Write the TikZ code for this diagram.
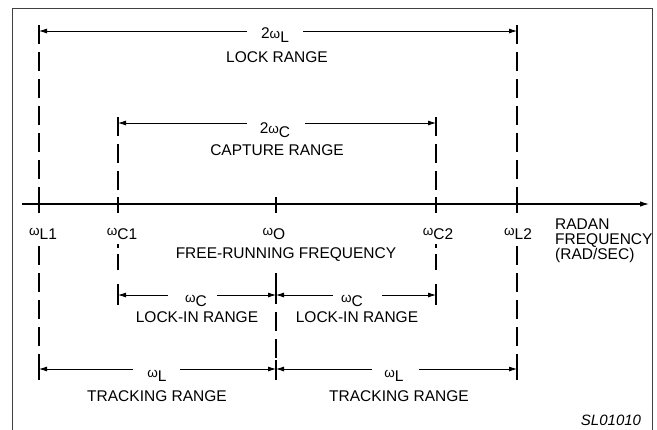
\documentclass[tikz,border=0pt]{standalone}
\usepackage{fontspec}
\setmainfont{Liberation Sans}
\usetikzlibrary{arrows.meta}
\newcommand{\wsub}[1]{{\fontsize{13.5bp}{13.5bp}\selectfont ω}\raisebox{-4bp}{#1}}
\begin{document}
\begin{tikzpicture}[x=1bp,y=-1bp,
  lbl/.style={font=\fontsize{15.5bp}{15bp}\selectfont, inner sep=0pt},
  dim/.style={line width=0.8bp, -{Latex[length=8bp,width=5bp]}},
  vdash/.style={line width=2.3bp, dash pattern=on 19bp off 8bp},
  vsolid/.style={line width=2.3bp},
  axisline/.style={line width=1.1bp, -{Latex[length=9bp,width=5.5bp]}},
  frame/.style={black!75, line width=1bp}]
\useasboundingbox (0,0) rectangle (657,429);
\draw[frame] (12,435) -- (12,8) -- (652,8) -- (652,435);

% axis
\coordinate (ax0) at (22,204);
\coordinate (ax1) at (649,204);
\draw[axisline] (ax0) -- (ax1);

% vertical markers
\foreach \x in {39,118,276,436,517} \draw[vsolid] (\x,197) -- (\x,213);
% L1, L2
\foreach \x in {39,517} {
  \draw[vdash] (\x,25) -- (\x,204);
  \draw[vsolid] (\x,25) -- (\x,44);
  \draw[vdash] (\x,246) -- (\x,380);
  \draw[vsolid] (\x,360) -- (\x,380);
}
% C1, C2
\foreach \x in {118,436} {
  \draw[vdash] (\x,117) -- (\x,204);
  \draw[vsolid] (\x,117) -- (\x,135);
  \draw[vsolid] (\x,244) -- (\x,248);
  \draw[vsolid] (\x,254) -- (\x,270);
  \draw[vsolid] (\x,284) -- (\x,305);
}
% O lower
\draw[vsolid] (276,273) -- (276,304);
\draw[vdash] (276,312) -- (276,380);
\draw[vsolid] (276,360) -- (276,380);

% endpoints
\coordinate (L1a) at (39,31);  \coordinate (L2a) at (517,31);
\coordinate (C1a) at (118,123); \coordinate (C2a) at (436,123);
\coordinate (C1b) at (118,295); \coordinate (Ob) at (276,295); \coordinate (C2b) at (436,295);
\coordinate (L1c) at (39,369); \coordinate (Oc) at (276,369); \coordinate (L2c) at (517,369);

% gap ends
\coordinate (g1a) at (247,31);  \coordinate (g1b) at (303,31);
\coordinate (g2a) at (247,123); \coordinate (g2b) at (305,123);
\coordinate (g3a) at (168,295); \coordinate (g3b) at (217,295);
\coordinate (g4a) at (333,295); \coordinate (g4b) at (382,295);
\coordinate (g5a) at (133,369); \coordinate (g5b) at (180,369);
\coordinate (g6a) at (372,369); \coordinate (g6b) at (419,369);

\draw[dim] (g1a) -- (L1a); \draw[dim] (g1b) -- (L2a);
\draw[dim] (g2a) -- (C1a); \draw[dim] (g2b) -- (C2a);
\draw[dim] (g3a) -- (C1b); \draw[dim] (g3b) -- (Ob);
\draw[dim] (g4a) -- (Ob);  \draw[dim] (g4b) -- (C2b);
\draw[dim] (g5a) -- (L1c); \draw[dim] (g5b) -- (Oc);
\draw[dim] (g6a) -- (Oc);  \draw[dim] (g6b) -- (L2c);

% labels
\node[lbl, anchor=base] (tl) at (275,38) {2\wsub{L}};
\node[lbl] (lr) at (277,57) {LOCK RANGE};
\node[lbl, anchor=base] (tc) at (275,133) {2\wsub{C}};
\node[lbl] (cr) at (277,150) {CAPTURE RANGE};

\node[lbl, anchor=base] (wl1) at (43,235) {\wsub{L1}};
\node[lbl, anchor=base] (wc1) at (122,235) {\wsub{C1}};
\node[lbl, anchor=base] (wo) at (274,235) {\wsub{O}};
\node[lbl, anchor=base] (wc2) at (438,235) {\wsub{C2}};
\node[lbl, anchor=base] (wl2) at (518,235) {\wsub{L2}};
\node[lbl] (frf) at (286,255) {FREE-RUNNING FREQUENCY};
\node[lbl, anchor=north west, align=left] (rad) at (555,219) {RADAN\\FREQUENCY\\(RAD/SEC)};

\node[lbl, anchor=base] (li1w) at (196,302) {\wsub{C}};
\node[lbl] (li1) at (197,317) {LOCK-IN RANGE};
\node[lbl, anchor=base] (li2w) at (352,302) {\wsub{C}};
\node[lbl] (li2) at (357,317) {LOCK-IN RANGE};

\node[lbl, anchor=base] (tr1w) at (157,377) {\wsub{L}};
\node[lbl] (tr1) at (157,396) {TRACKING RANGE};
\node[lbl, anchor=base] (tr2w) at (394,377) {\wsub{L}};
\node[lbl] (tr2) at (399,396) {TRACKING RANGE};

\node[lbl, font=\fontsize{15bp}{15bp}\selectfont\itshape] (sl) at (611,420) {SL01010};
\end{tikzpicture}
\end{document}
